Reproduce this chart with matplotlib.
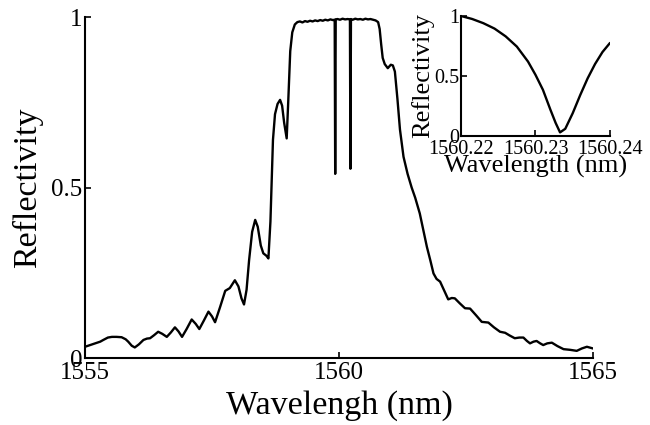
import matplotlib
matplotlib.use("Agg")
import matplotlib.pyplot as plt

plt.rcParams['font.family'] = ['Liberation Serif', 'DejaVu Serif']
plt.rcParams['mathtext.fontset'] = 'stix'

# ---- main spectrum ----
wavelength = [
    1555.00, 1555.10, 1555.20, 1555.30, 1555.36, 1555.45, 1555.53, 1555.62, 1555.72, 1555.80,
    1555.85, 1555.92, 1555.98, 1556.06, 1556.15, 1556.22, 1556.28, 1556.36, 1556.44, 1556.52,
    1556.61, 1556.69, 1556.77, 1556.84, 1556.91, 1557.00, 1557.10, 1557.18, 1557.25, 1557.34,
    1557.43, 1557.50, 1557.56, 1557.66, 1557.76, 1557.85, 1557.95, 1558.02, 1558.08, 1558.13,
    1558.18, 1558.23, 1558.29, 1558.35, 1558.40, 1558.46, 1558.51, 1558.57, 1558.61, 1558.65,
    1558.70, 1558.74, 1558.79, 1558.84, 1558.88, 1558.92, 1558.97, 1559.00, 1559.04, 1559.08,
    1559.13, 1559.18, 1559.23, 1559.28, 1559.33, 1559.38, 1559.43, 1559.48, 1559.53, 1559.58,
    1559.63, 1559.68, 1559.73, 1559.78, 1559.83, 1559.88, 1559.915, 1559.925, 1559.935, 1559.97,
    1560.02, 1560.07, 1560.12, 1560.17, 1560.215, 1560.225, 1560.235, 1560.27, 1560.32, 1560.37,
    1560.42, 1560.47, 1560.52, 1560.57, 1560.62, 1560.67, 1560.72, 1560.77, 1560.80, 1560.83,
    1560.86, 1560.90, 1560.96, 1561.02, 1561.06, 1561.10, 1561.15, 1561.20, 1561.27, 1561.35,
    1561.43, 1561.50, 1561.59, 1561.66, 1561.73, 1561.80, 1561.86, 1561.92, 1561.99, 1562.07,
    1562.15, 1562.22, 1562.28, 1562.38, 1562.48, 1562.58, 1562.70, 1562.81, 1562.94, 1563.05,
    1563.17, 1563.27, 1563.36, 1563.46, 1563.55, 1563.63, 1563.70, 1563.76, 1563.83, 1563.89,
    1563.96, 1564.02, 1564.10, 1564.19, 1564.30, 1564.42, 1564.55, 1564.68, 1564.78, 1564.88,
    1564.95, 1565.00,
]
reflectivity = [
    0.033, 0.038, 0.043, 0.048, 0.053, 0.060, 0.062, 0.062, 0.061, 0.055,
    0.048, 0.036, 0.031, 0.040, 0.053, 0.057, 0.058, 0.067, 0.077, 0.071,
    0.062, 0.075, 0.090, 0.078, 0.062, 0.085, 0.113, 0.100, 0.085, 0.110,
    0.136, 0.122, 0.105, 0.150, 0.197, 0.205, 0.228, 0.210, 0.175, 0.157,
    0.200, 0.287, 0.370, 0.405, 0.385, 0.330, 0.307, 0.300, 0.292, 0.400,
    0.640, 0.715, 0.745, 0.757, 0.740, 0.690, 0.644, 0.750, 0.900, 0.955,
    0.978, 0.985, 0.987, 0.984, 0.988, 0.986, 0.989, 0.987, 0.990, 0.988,
    0.991, 0.989, 0.992, 0.990, 0.993, 0.991, 0.992, 0.540, 0.993, 0.994,
    0.992, 0.995, 0.993, 0.994, 0.993, 0.555, 0.994, 0.992, 0.995, 0.993,
    0.994, 0.992, 0.995, 0.993, 0.994, 0.992, 0.990, 0.985, 0.965, 0.920,
    0.880, 0.862, 0.850, 0.860, 0.858, 0.840, 0.760, 0.670, 0.590, 0.540,
    0.500, 0.470, 0.424, 0.375, 0.326, 0.285, 0.248, 0.232, 0.224, 0.198,
    0.172, 0.176, 0.175, 0.160, 0.146, 0.145, 0.125, 0.106, 0.104, 0.090,
    0.077, 0.074, 0.066, 0.058, 0.060, 0.060, 0.050, 0.043, 0.048, 0.050,
    0.043, 0.038, 0.043, 0.045, 0.035, 0.026, 0.024, 0.021, 0.028, 0.033,
    0.030, 0.028,
]
main_xticks = [1555, 1560, 1565]
main_xticklabels = ['1555', '1560', '1565']
main_yticks = [0, 0.5, 1]
main_yticklabels = ['0', '0.5', '1']

# ---- inset (zoom on notch) ----
inset_wavelength = [
    1560.2200, 1560.2215, 1560.2230, 1560.2245, 1560.2260, 1560.2275, 1560.2290, 1560.2300,
    1560.2310, 1560.2320, 1560.2327, 1560.2333, 1560.2340, 1560.2350, 1560.2360, 1560.2370,
    1560.2380, 1560.2390, 1560.2400,
]
inset_reflectivity = [
    1.000, 0.975, 0.940, 0.895, 0.830, 0.745, 0.620, 0.510,
    0.385, 0.220, 0.110, 0.030, 0.060, 0.190, 0.340, 0.480,
    0.600, 0.700, 0.775,
]
inset_xticks = [1560.22, 1560.23, 1560.24]
inset_xticklabels = ['1560.22', '1560.23', '1560.24']
inset_yticks = [0, 0.5, 1]
inset_yticklabels = ['0', '0.5', '1']

fig = plt.figure(figsize=(6.5, 4.25), dpi=100)

def style(ax, fs):
    for s in ('top', 'right'):
        ax.spines[s].set_visible(False)
    for s in ('left', 'bottom'):
        ax.spines[s].set_linewidth(1.5)
    ax.tick_params(direction='in', length=4, width=1.2, labelsize=fs,
                   top=False, right=False)

ax = fig.add_axes([0.1308, 0.1576, 0.7815, 0.8024])
ax.plot(wavelength, reflectivity, color='black', lw=1.7,
        solid_joinstyle='round', solid_capstyle='round')
ax.set_xlim(1555, 1565)
ax.set_ylim(0, 1)
ax.set_xticks(main_xticks)
ax.set_xticklabels(main_xticklabels)
ax.set_yticks(main_yticks)
ax.set_yticklabels(main_yticklabels)
style(ax, 18)
ax.tick_params(axis='x', pad=3)
ax.tick_params(axis='y', pad=2)
ax.set_xlabel('Wavelengh (nm)', fontsize=24.5, labelpad=4)
ax.set_ylabel('Reflectivity', fontsize=24.5, labelpad=6)

ins = fig.add_axes([0.7092, 0.68, 0.2292, 0.2824])
ins.patch.set_alpha(0)
ins.plot(inset_wavelength, inset_reflectivity, color='black', lw=1.7,
         solid_joinstyle='round', solid_capstyle='round')
ins.set_xlim(1560.22, 1560.24)
ins.set_ylim(0, 1)
ins.set_xticks(inset_xticks)
ins.set_xticklabels(inset_xticklabels)
ins.set_yticks(inset_yticks)
ins.set_yticklabels(inset_yticklabels)
style(ins, 14.5)
ins.tick_params(axis='x', pad=3)
ins.tick_params(axis='y', pad=1)
ins.set_xlabel('Wavelength (nm)', fontsize=19, labelpad=-3)
ins.set_ylabel('Reflectivity', fontsize=19, labelpad=0)

fig.savefig('out.png', dpi=100)
